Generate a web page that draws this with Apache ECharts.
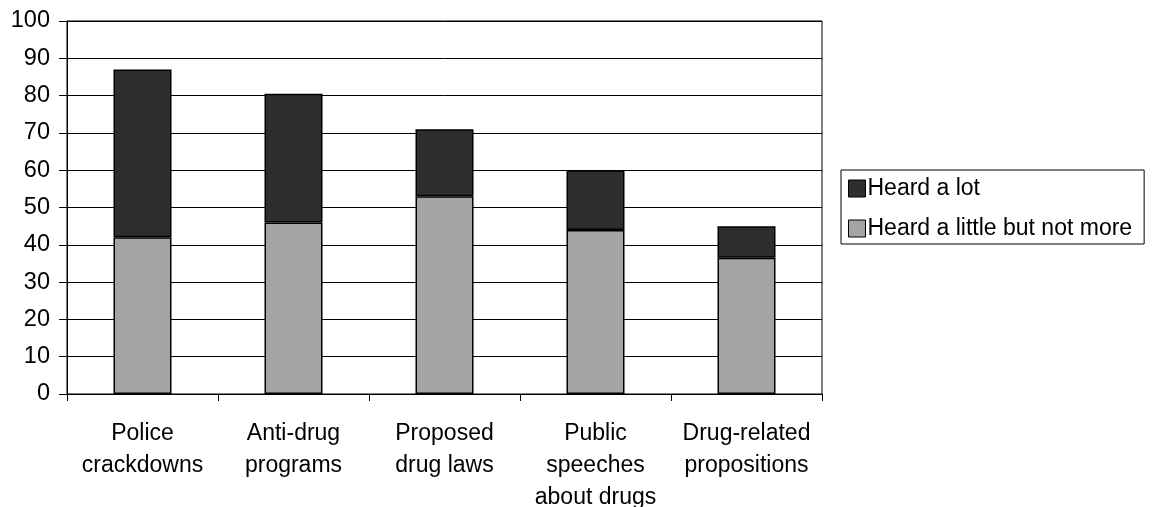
<!DOCTYPE html>
<html>
<head>
<meta charset="utf-8">
<script src="https://cdn.jsdelivr.net/npm/echarts@6/dist/echarts.min.js"></script>
<style>
  html, body { margin: 0; padding: 0; background: #fff; }
  #chart { width: 1152px; height: 507px; }
</style>
</head>
<body>
<div id="chart"></div>
<script>
// Where people heard about drug issues (percent of respondents)
const categories = [
  'Police\ncrackdowns',
  'Anti-drug\nprograms',
  'Proposed\ndrug laws',
  'Public\nspeeches\nabout drugs',
  'Drug-related\npropositions'
];
const heardLittle = [42, 46, 53, 44, 36.5];
const heardLot = [45, 34.5, 18, 16, 8.5];
const yTicks = { min: 0, max: 100, interval: 10 };

const FONT = '"Liberation Sans", Arial, sans-serif';

const chart = echarts.init(document.getElementById('chart'), null, { renderer: 'canvas' });
chart.setOption({
  backgroundColor: '#ffffff',
  animation: false,
  textStyle: { fontFamily: FONT, color: '#000' },
  grid: {
    left: 67, right: 330, top: 21, bottom: 113,
    containLabel: false,
    outerBoundsMode: 'none',
    show: true, borderColor: '#000', borderWidth: 1, backgroundColor: 'transparent'
  },
  legend: {
    orient: 'vertical',
    left: 841, top: 170,
    data: ['Heard a lot', 'Heard a little but not more'],
    icon: 'rect',
    itemWidth: 17, itemHeight: 17,
    itemGap: 17,
    padding: [7, 12, 4, 7],
    borderColor: '#000', borderWidth: 1,
    itemStyle: { borderColor: '#000', borderWidth: 1 },
    textStyle: { fontFamily: FONT, fontSize: 23, color: '#000', padding: [0, 0, 0, -3] }
  },
  xAxis: {
    type: 'category',
    data: categories,
    axisLine: { lineStyle: { color: '#000', width: 1 } },
    axisTick: { show: true, length: 7, lineStyle: { color: '#000' }, alignWithLabel: false },
    axisLabel: {
      fontFamily: FONT, fontSize: 23, color: '#000', margin: 23.5, lineHeight: 32,
      interval: 0, align: 'center'
    }
  },
  yAxis: {
    type: 'value',
    min: yTicks.min, max: yTicks.max, interval: yTicks.interval,
    axisLine: { show: true, lineStyle: { color: '#000', width: 1 } },
    axisTick: { show: true, length: 8, lineStyle: { color: '#000' } },
    axisLabel: { fontFamily: FONT, fontSize: 23.5, color: '#000', margin: 17 },
    splitLine: { show: true, lineStyle: { color: '#000', width: 1 } }
  },
  series: [
    {
      name: 'Heard a little but not more',
      type: 'bar',
      stack: 'heard',
      data: heardLittle,
      barWidth: 58,
      itemStyle: { color: '#a4a4a4', borderColor: '#000', borderWidth: 1.5 }
    },
    {
      name: 'Heard a lot',
      type: 'bar',
      stack: 'heard',
      data: heardLot,
      barWidth: 58,
      itemStyle: { color: '#2e2e2e', borderColor: '#000', borderWidth: 1.5 }
    }
  ]
});
</script>
</body>
</html>
